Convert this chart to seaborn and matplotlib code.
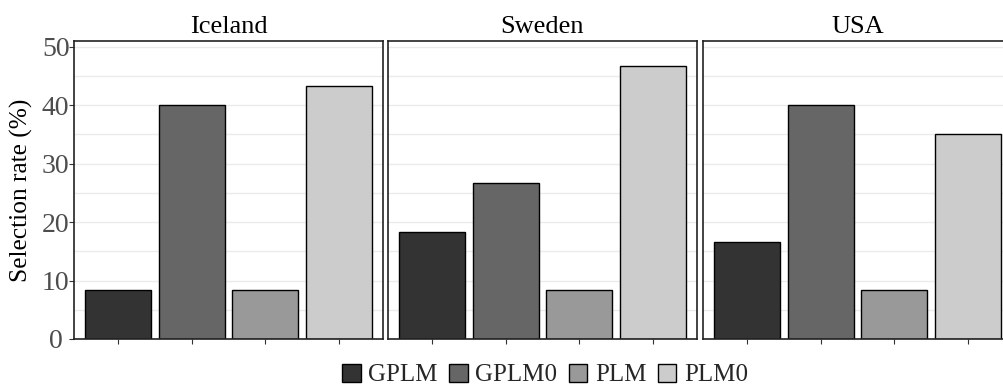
import matplotlib
matplotlib.use("Agg")
import matplotlib.pyplot as plt
from matplotlib.ticker import MultipleLocator
from matplotlib.patches import Patch
import seaborn as sns
import pandas as pd

countries = ["Iceland", "Sweden", "USA"]
models = ["GPLM", "GPLM0", "PLM", "PLM0"]
iceland_rates = [8.33, 40.0, 8.33, 43.33]
sweden_rates = [18.33, 26.67, 8.33, 46.67]
usa_rates = [16.67, 40.0, 8.33, 35.0]
colors = ["#333333", "#666666", "#999999", "#CCCCCC"]
y_ticks = [0, 10, 20, 30, 40, 50]

rates = {"Iceland": iceland_rates, "Sweden": sweden_rates, "USA": usa_rates}

sns.set_theme(style="white")
plt.rcParams["font.family"] = ["Liberation Serif", "DejaVu Serif"]

W, H = 1004, 391
fig = plt.figure(figsize=(W / 100, H / 100), dpi=100)

lefts = [74, 388, 703]
pw = 309
top_px, bot_px = 41, 339
palette = dict(zip(models, colors))

for i, c in enumerate(countries):
    ax = fig.add_axes([lefts[i] / W, (H - bot_px) / H, pw / W, (bot_px - top_px) / H])
    df = pd.DataFrame({"model": models, "rate": rates[c]})
    sns.barplot(data=df, x="model", y="rate", hue="model", palette=palette,
                order=models, hue_order=models, width=0.9, edgecolor="black",
                linewidth=1.0, saturation=1, legend=False, ax=ax)
    ax.set_xlim(-0.6, 3.6)
    ax.set_ylim(0, 51)
    ax.yaxis.set_major_locator(MultipleLocator(10))
    ax.yaxis.set_minor_locator(MultipleLocator(5))
    ax.set_axisbelow(True)
    ax.grid(True, which="both", axis="y", color="#ebebeb", linewidth=1.0)
    ax.grid(False, axis="x")
    for s in ax.spines.values():
        s.set_visible(True)
        s.set_color("#222222")
        s.set_linewidth(1.2)
    ax.set_xlabel("")
    ax.set_xticks(range(len(models)))
    ax.set_xticklabels([])
    ax.tick_params(axis="x", bottom=True, length=3.5, width=0.8, color="#333333")
    if i == 0:
        ax.set_yticks(y_ticks)
        ax.set_yticklabels([str(t) for t in y_ticks])
        ax.tick_params(axis="y", left=True, length=3.5, width=0.8, color="#333333",
                       labelsize=20, labelcolor="#4d4d4d", pad=9.7)
        ax.tick_params(axis="y", which="minor", left=False)
        for lbl in ax.get_yticklabels():
            lbl.set_horizontalalignment("center")
        ax.set_ylabel("Selection rate (%)", fontsize=18.3, color="black")
        ax.yaxis.set_label_coords((33 - 74) / pw, 0.5)
    else:
        ax.set_yticklabels([])
        ax.tick_params(axis="y", left=False, which="both")
        ax.set_ylabel("")
    ax.set_title(c, fontsize=19, color="black", pad=6)

handles = [Patch(facecolor=col, edgecolor="black", linewidth=1.0, label=m)
           for m, col in zip(models, colors)]
fig.legend(handles=handles, loc="center", bbox_to_anchor=(545 / W, 1 - 375 / H),
           ncol=4, frameon=False, fontsize=18, handlelength=0.75, handleheight=0.75,
           handletextpad=0.3, columnspacing=0.45, borderpad=0)

fig.savefig("out.png", dpi=100)
